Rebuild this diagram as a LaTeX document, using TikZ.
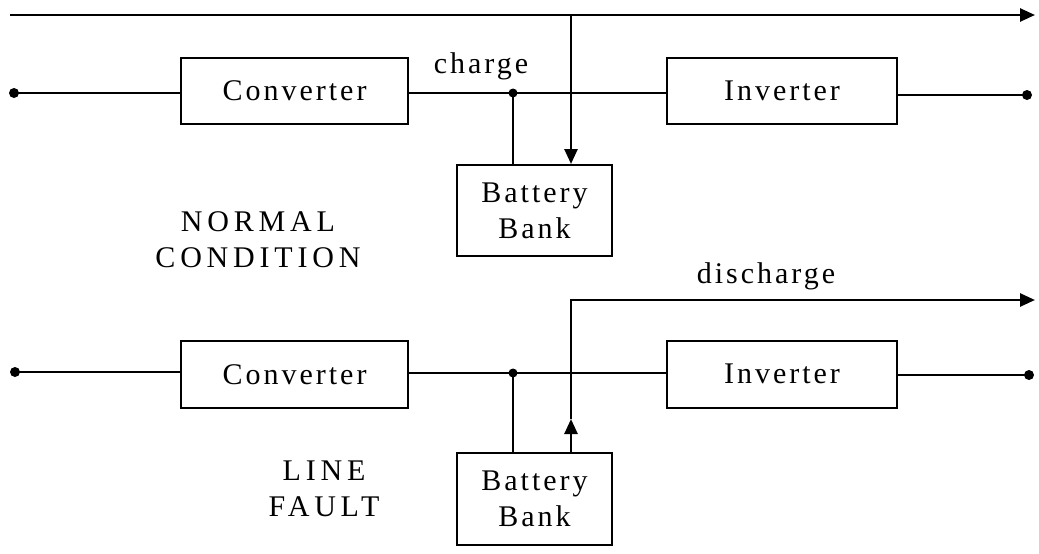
\documentclass[tikz,border=0pt]{standalone}
\usepackage{fontspec}
\setmainfont[LetterSpace=10]{Liberation Serif}
\usetikzlibrary{arrows.meta}
\begin{document}
\begin{tikzpicture}[x=1pt,y=-1pt,
  every node/.style={font=\fontsize{30}{36}\selectfont, inner sep=0pt},
  blk/.style={draw, line width=2pt, minimum width=227pt, minimum height=66pt},
  bat/.style={draw, line width=2pt, minimum width=155pt, minimum height=91pt, align=center},
  wire/.style={line width=2pt},
  flow/.style={line width=2.6pt, -{Triangle[length=15pt,width=13pt]}},
  dot/.style={circle, fill=black, minimum size=10pt, inner sep=0pt},
  lab/.style={align=center, font=\fontsize{30}{36}\selectfont\addfontfeatures{LetterSpace=16}}]
\useasboundingbox (0,0) rectangle (1039,554);
% ---------- normal condition ----------
\node[blk] (conv1) at (294.5,91) {Converter};
\node[blk, minimum width=230pt] (inv1) at (782,91) {Inverter};
\node[bat] (bat1) at (534.5,210.5) {Battery\\Bank};
\node[dot] (in1) at (14,93) {};
\node[dot] (out1) at (1027,95) {};
\node[dot, minimum size=9pt] (j1) at (513,93) {};
\coordinate (top1s) at (10,15);
\coordinate (top1e) at (1035,15);
\coordinate (tap1) at (571,15);
\node (charge) at (481,66) {charge};
\node[lab] (normal) at (258,240) {NORMAL\\CONDITION};
\draw[wire] (in1.center) -- (in1.center -| conv1.west);
\draw[wire] (j1.center -| conv1.east) -- (j1.center) -- (j1.center -| inv1.west);
\draw[wire] (out1.center -| inv1.east) -- (out1.center);
\draw[wire, line width=2.6pt] (j1.center) -- (j1.center |- bat1.north);
\draw[flow] (top1s) -- (top1e);
\draw[flow] (tap1) -- (tap1 |- bat1.north);
% ---------- line fault ----------
\node[blk, minimum height=67pt] (conv2) at (294.5,374.5) {Converter};
\node[blk, minimum width=230pt, minimum height=67pt] (inv2) at (782,374) {Inverter};
\node[bat, minimum height=92pt] (bat2) at (534.5,499) {Battery\\Bank};
\node[dot] (in2) at (15,372) {};
\node[dot] (out2) at (1029,375) {};
\node[dot, minimum size=9pt] (j2) at (513,373) {};
\coordinate (up2) at (571,419);
\coordinate (corner2) at (571,300);
\coordinate (dis2e) at (1035,300);
\node (discharge) at (766,276) {discharge};
\node[lab] (fault) at (324,489) {LINE\\FAULT};
\draw[wire] (in2.center) -- (in2.center -| conv2.west);
\draw[wire] (j2.center -| conv2.east) -- (j2.center) -- (j2.center -| inv2.west);
\draw[wire] (out2.center -| inv2.east) -- (out2.center);
\draw[wire, line width=2.6pt] (j2.center) -- (j2.center |- bat2.north);
\draw[flow] (up2 |- bat2.north) -- (up2);
\draw[flow] (up2) -- (corner2) -- (dis2e);
\end{tikzpicture}
\end{document}
